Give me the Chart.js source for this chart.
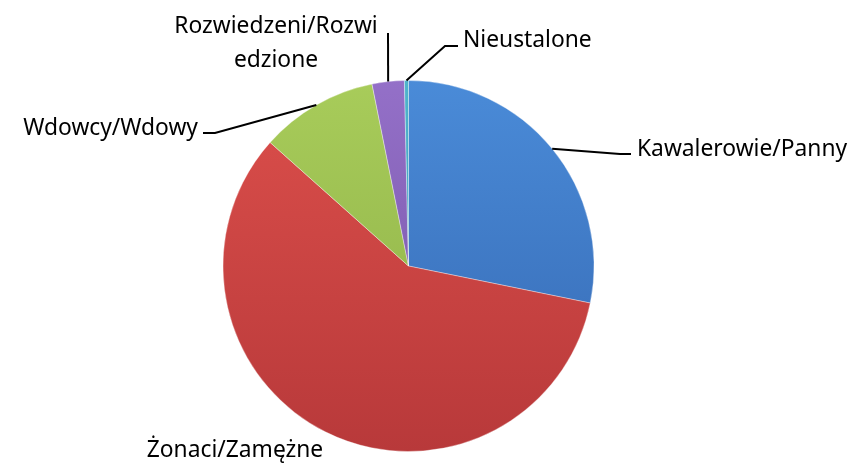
<!DOCTYPE html>
<html>
<head>
<meta charset="utf-8">
<script src="https://cdn.jsdelivr.net/npm/chart.js@4"></script>
<style>
  html, body { margin: 0; padding: 0; background: #fff; }
  #wrap { width: 854px; height: 463px; }
</style>
</head>
<body>
<div id="wrap"><canvas id="stanChart"></canvas></div>
<script>
const kategorie = ["Kawalerowie/Panny", "Żonaci/Zamężne", "Wdowcy/Wdowy", "Rozwiedzeni/Rozwiedzione", "Nieustalone"];
const etykiety = [["Kawalerowie/Panny"], ["Żonaci/Zamężne"], ["Wdowcy/Wdowy"], ["Rozwiedzeni/Rozwi", "edzione"], ["Nieustalone"]];
const udzialy = [28.2, 58.4, 10.25, 2.8, 0.35];

const koloryGora = ["#4a8bd8", "#dc4f4b", "#a8cc5a", "#9470c8", "#4fb4cc"];
const koloryDol = ["#3568b2", "#b8393a", "#8cae46", "#7352a4", "#3a92ac"];

// polozenie podpisow (lamanie linii, tekst)
const podpisy = [
  { elbow: [620, 154], tick: [631, 154], text: [637, 156], align: "left" },
  { elbow: null, tick: null, text: [235, 457], align: "center" },
  { elbow: [215, 133], tick: [203, 133], text: [198, 135], align: "right" },
  { elbow: [388, 33], tick: null, text: [276, 33], align: "center" },
  { elbow: [445, 46], tick: [458, 46], text: [463, 47], align: "left" }
];

const podpisyPlugin = {
  id: "podpisy",
  afterDatasetsDraw(chart) {
    const ctx = chart.ctx;
    const arcs = chart.getDatasetMeta(0).data;
    ctx.save();
    ctx.font = "22.8px 'Noto Sans'";
    ctx.fillStyle = "#000";
    ctx.strokeStyle = "#000";
    ctx.lineWidth = 2;
    arcs.forEach((arc, i) => {
      const p = arc.getProps(["x", "y", "startAngle", "endAngle", "outerRadius"], true);
      const mid = (p.startAngle + p.endAngle) / 2;
      const ex = p.x + Math.cos(mid) * p.outerRadius;
      const ey = p.y + Math.sin(mid) * p.outerRadius;
      const cfg = podpisy[i];
      if (cfg.elbow) {
        ctx.beginPath();
        ctx.moveTo(ex, ey);
        ctx.lineTo(cfg.elbow[0], cfg.elbow[1]);
        if (cfg.tick) ctx.lineTo(cfg.tick[0], cfg.tick[1]);
        ctx.stroke();
      }
      ctx.textAlign = cfg.align;
      ctx.textBaseline = "alphabetic";
      etykiety[i].forEach((line, j) => {
        ctx.fillText(line, cfg.text[0], cfg.text[1] + j * 34);
      });
    });
    ctx.restore();
  }
};

function gradient(ctx, i) {
  const chart = ctx.chart;
  const area = chart.chartArea;
  if (!area) return koloryGora[i];
  const g = chart.ctx.createLinearGradient(0, area.top, 0, area.bottom);
  g.addColorStop(0, koloryGora[i]);
  g.addColorStop(1, koloryDol[i]);
  return g;
}

new Chart(document.getElementById("stanChart"), {
  type: "pie",
  data: {
    labels: kategorie,
    datasets: [{
      data: udzialy,
      backgroundColor: (c) => gradient(c, c.dataIndex),
      borderColor: "rgba(255,255,255,0.35)",
      borderWidth: 1
    }]
  },
  options: {
    responsive: true,
    maintainAspectRatio: false,
    animation: false,
    layout: { padding: { top: 80, bottom: 11, left: 0, right: 37 } },
    plugins: {
      legend: { display: false },
      tooltip: { enabled: false }
    }
  },
  plugins: [podpisyPlugin]
});
</script>
</body>
</html>
